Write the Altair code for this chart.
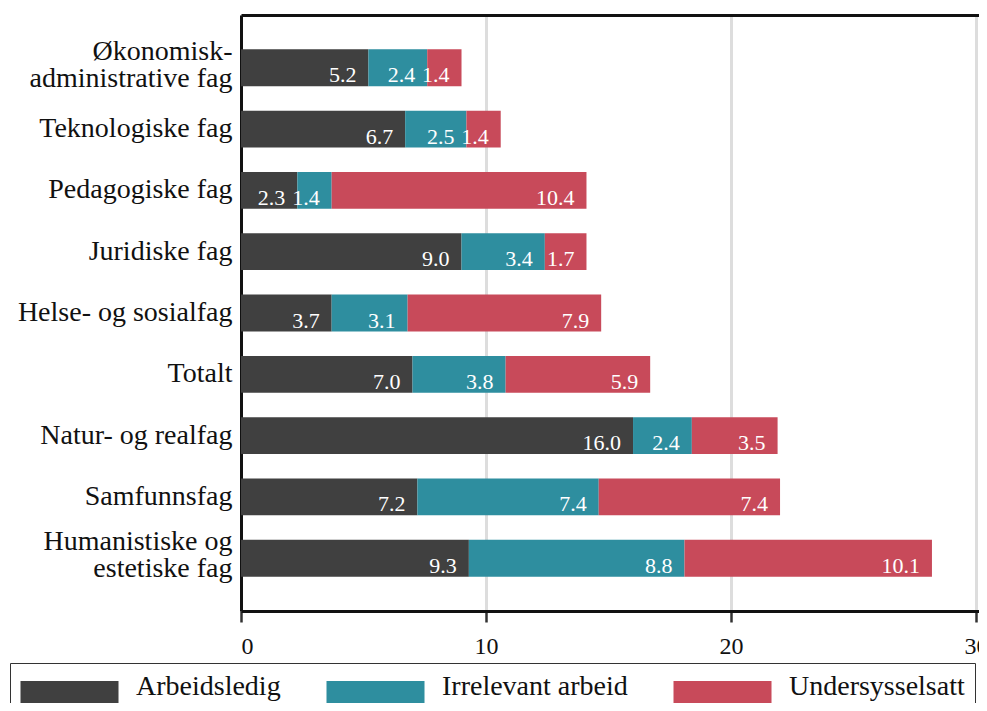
import altair as alt
import pandas as pd

categories = [
    "Økonomisk-\nadministrative fag",
    "Teknologiske fag",
    "Pedagogiske fag",
    "Juridiske fag",
    "Helse- og sosialfag",
    "Totalt",
    "Natur- og realfag",
    "Samfunnsfag",
    "Humanistiske og\nestetiske fag",
]
series = ["Arbeidsledig", "Irrelevant arbeid", "Undersysselsatt"]
arbeidsledig = [5.2, 6.7, 2.3, 9.0, 3.7, 7.0, 16.0, 7.2, 9.3]
irrelevant = [2.4, 2.5, 1.4, 3.4, 3.1, 3.8, 2.4, 7.4, 8.8]
undersysselsatt = [1.4, 1.4, 10.4, 1.7, 7.9, 5.9, 3.5, 7.4, 10.1]
colors = ["#404040", "#2e8e9f", "#c84a5a"]

rows = []
for i, c in enumerate(categories):
    for j, (s, vals) in enumerate(zip(series, [arbeidsledig, irrelevant, undersysselsatt])):
        rows.append({"fag": c, "serie": s, "verdi": vals[i], "rekkefolge": j})
df = pd.DataFrame(rows)

FONT = "Liberation Serif"
NBSP = "\u00a0" * 8

base = alt.Chart(df).transform_stack(
    stack="verdi", groupby=["fag"], as_=["start", "slutt"],
    sort=[alt.SortField("rekkefolge", order="ascending")],
)

xscale = alt.Scale(domain=[0, 30.12], nice=False, zero=True)

yenc = alt.Y(
    "fag:N", sort=categories, title=None,
    scale=alt.Scale(paddingInner=0.4, paddingOuter=0.56),
    axis=alt.Axis(
        labelExpr="split(datum.label, '\\n')",
        labelFontSize=28, labelFont=FONT, labelColor="#111",
        labelLineHeight=27, labelPadding=9, labelLimit=400,
        labelOffset={"condition": {"test": "indexof(datum.value, '\\n') >= 0", "value": -16}, "value": 0},
        ticks=False, domainColor="#111", domainWidth=3, grid=False,
    ),
)

bars = base.mark_bar().encode(
    x=alt.X(
        "start:Q", title=None, scale=xscale,
        axis=alt.Axis(
            values=[0, 10, 20, 30], format="d",
            labelFontSize=24, labelFont=FONT, labelColor="#111", labelPadding=12,
            tickSize=11, tickWidth=2.5, tickColor="#333",
            domainColor="#111", domainWidth=3,
            grid=True, gridColor="#dddddd", gridWidth=3,
        ),
    ),
    x2="slutt:Q",
    y=yenc,
    color=alt.Color(
        "serie:N", sort=series,
        scale=alt.Scale(domain=series, range=colors),
        legend=alt.Legend(
            title=None, orient="none", direction="horizontal",
            legendX=-231, legendY=648,
            symbolType="M-1,-0.45L6.26,-0.45L6.26,1.55L-1,1.55Z",
            symbolSize=729, symbolStrokeWidth=0, symbolOpacity=1,
            labelFontSize=28, labelFont=FONT, labelColor="#111",
            labelOffset=88, columnPadding=45,
            labelExpr="datum.label == 'Undersysselsatt' ? datum.label + '" + NBSP + "' : datum.label",
            padding=10, strokeColor="#333", labelLimit=500,
        ),
    ),
)

labels = base.mark_text(
    align="right", baseline="alphabetic", dx=-12, dy=14.5,
    fontSize=22, font=FONT, color="white",
).encode(
    x=alt.X(
        "slutt:Q", scale=xscale,
        axis=alt.Axis(
            orient="top", labels=False, ticks=False, grid=False, title=None,
            domain=True, domainColor="#111", domainWidth=3,
        ),
    ),
    y=alt.Y("fag:N", sort=categories),
    text=alt.Text("verdi:Q", format=".1f"),
)

chart = (bars + labels).resolve_axis(x="independent").properties(
    width=738, height=596,
    autosize="none",
    padding={"left": 233, "top": 7, "right": 0, "bottom": 92},
).configure_view(stroke=None).configure(background="white")

chart.save("out.html", embed_options={"renderer": "svg", "actions": False})
